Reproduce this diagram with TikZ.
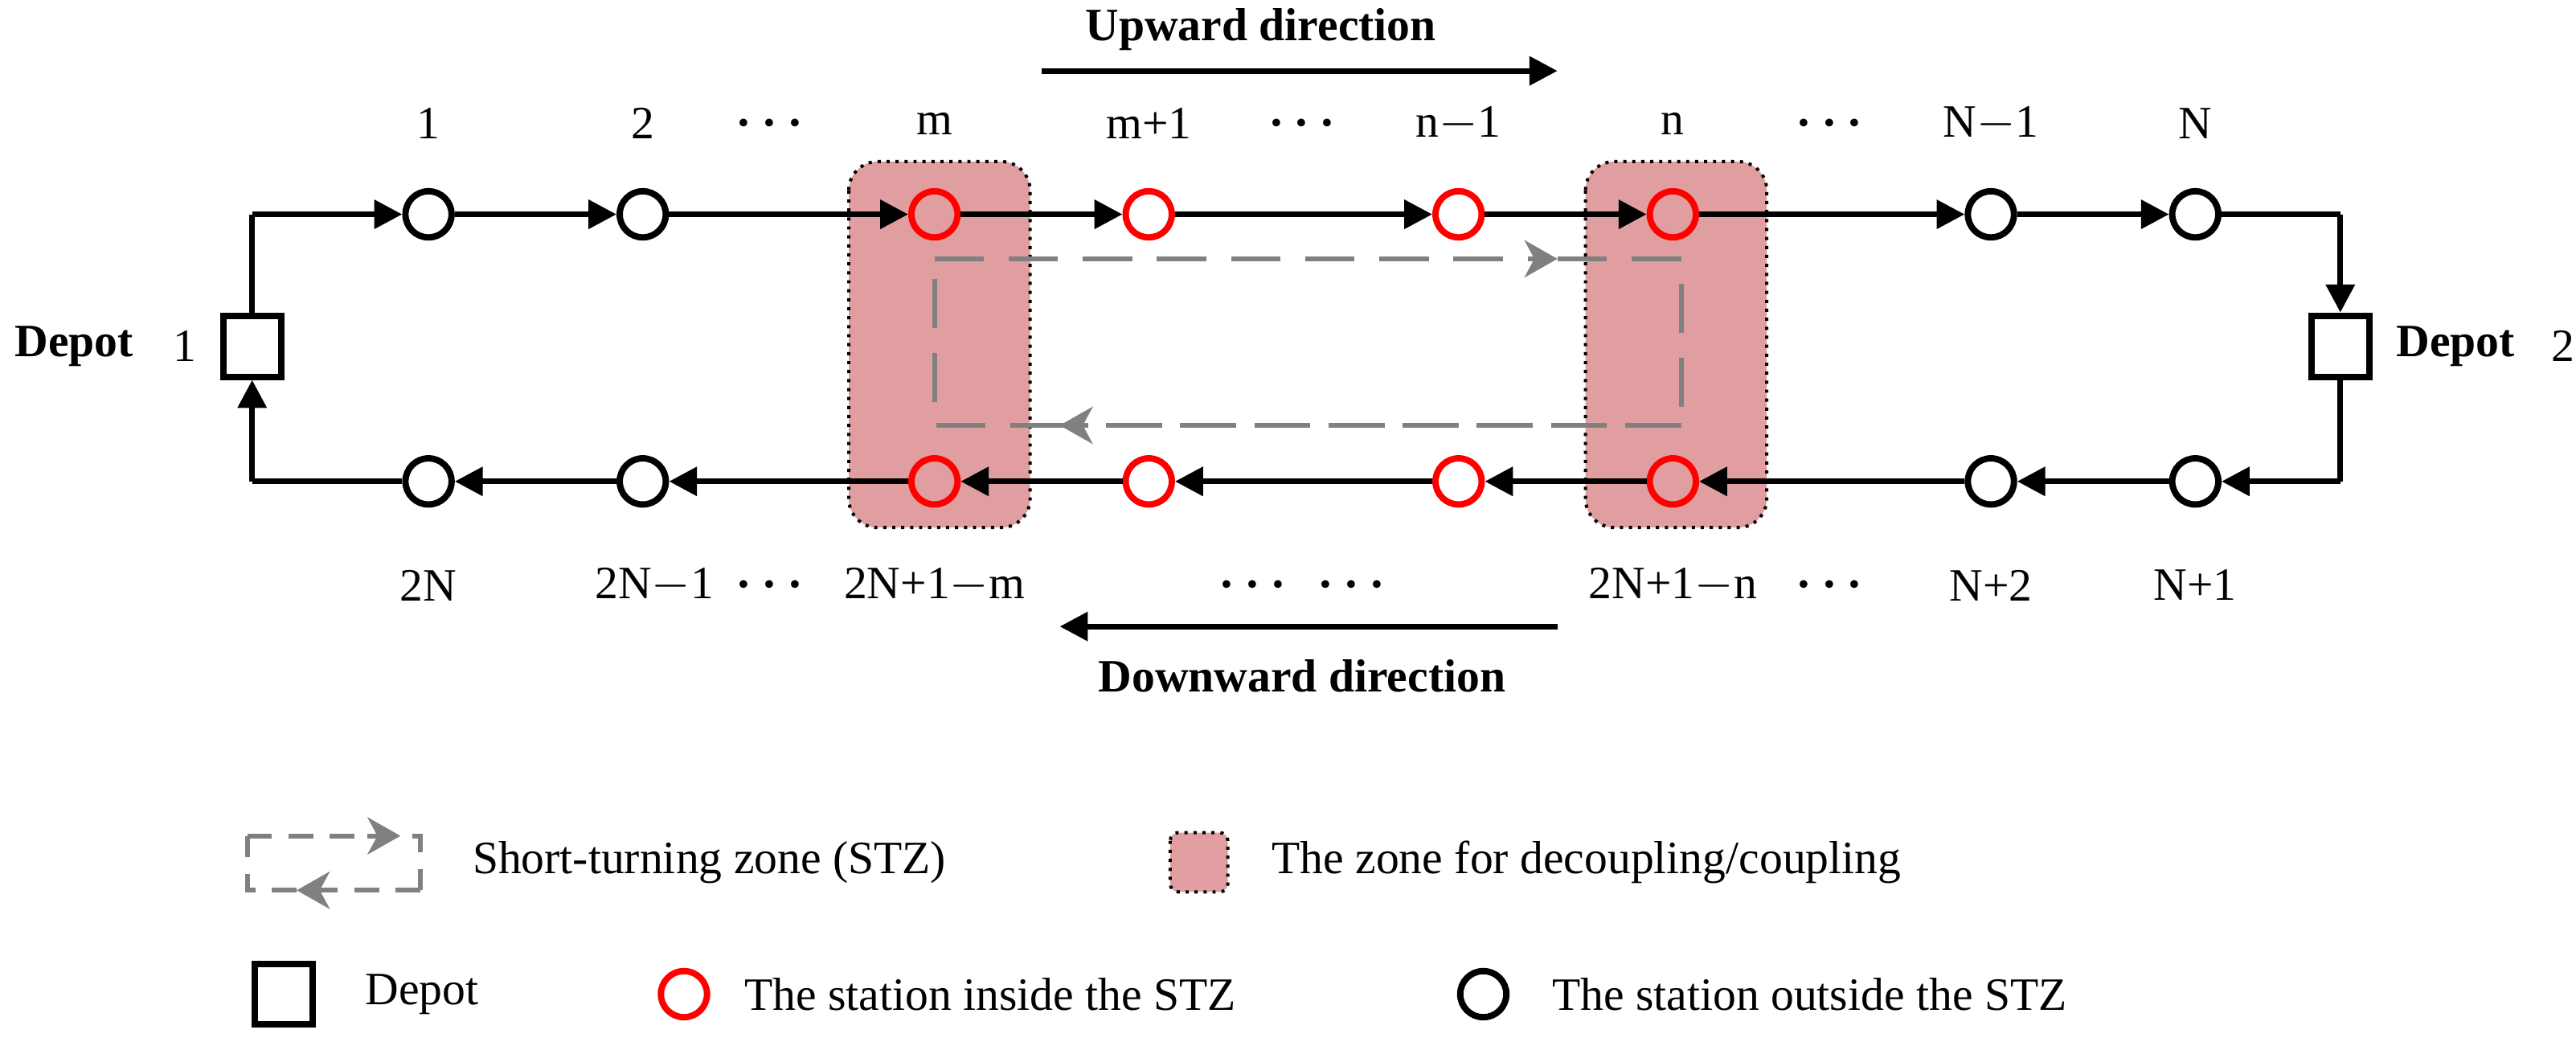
\documentclass[tikz,border=0pt]{standalone}
\usepackage{fontspec}
\setmainfont{Liberation Serif}
\usetikzlibrary{arrows.meta,calc}
\definecolor{zonepink}{RGB}{224,158,160}
\begin{document}
\begin{tikzpicture}[x=0.02cm,y=-0.02cm,
  font=\fontsize{16}{18}\selectfont,
  line width=2pt,
  arr/.style={-{Triangle[length=3.4mm,width=3.4mm]}},
  inout/.style={circle,draw=black,line width=2.2pt,minimum size=0.56cm,inner sep=0pt},
  inside/.style={inout,draw=red},
  depot/.style={rectangle,draw=black,line width=2.2pt,minimum width=0.7cm,minimum height=0.74cm,inner sep=0pt},
  zone/.style={fill=zonepink,draw=black,dotted,line width=1.1pt,rounded corners=0.35cm},
  stz/.style={draw=gray,dashed,dash pattern=on 6mm off 3mm,line width=1.7pt},
  stzarr/.style={stz,-{Stealth[length=4mm,width=4.5mm,inset=1.2mm]}},
  lab/.style={inner sep=0pt},
  dots/.style={lab,font=\fontsize{16}{18}\selectfont\boldmath}]
\useasboundingbox (0,0) rectangle (1563,632);
% zones for decoupling/coupling
\draw[zone] (515,98) rectangle (625,320);
\draw[zone] (962,98) rectangle (1072,320);
% short-turning zone
\coordinate (s1) at (567,157);
\coordinate (s2) at (945,157);
\coordinate (s3) at (1020,157);
\coordinate (s4) at (1020,258);
\coordinate (s5) at (643,258);
\coordinate (s6) at (567,258);
\draw[stzarr] (s1) -- (s2);
\draw[stz] (s2) -- (s3) -- (s4) -- (s5);
\draw[stzarr] (s4) -- (s5);
\draw[stz] (s5) -- (s6) -- (s1);
% depots
\node[depot] (d1) at (153,210) {};
\node[depot] (d2) at (1420,210) {};
\node[lab,font=\fontsize{16}{18}\selectfont\bfseries] at (45,210) {Depot};
\node[lab] at (112,210) {1};
\node[lab,font=\fontsize{16}{18}\selectfont\bfseries] at (1490,210) {Depot};
\node[lab] at (1555,210) {2};
% stations
\foreach \name/\x/\st in {u1/260/inout,u2/390/inout,um/567/inside,ua/697/inside,
  ub/885/inside,un/1015/inside,uc/1208/inout,uN/1332/inout}
  \node[\st] (\name) at (\x,130) {};
\foreach \name/\x/\st in {l1/260/inout,l2/390/inout,lm/567/inside,la/697/inside,
  lb/885/inside,ln/1015/inside,lc/1208/inout,lN/1332/inout}
  \node[\st] (\name) at (\x,292) {};
% upward line
\coordinate (c1) at (153,130);
\coordinate (c2) at (1420,130);
\coordinate (c3) at (1420,292);
\coordinate (c4) at (153,292);
\draw (d1.north) -- (c1);
\draw[arr] (c1) -- (u1);
\draw[arr] (u1) -- (u2);
\draw[arr] (u2) -- (um);
\draw[arr] (um) -- (ua);
\draw[arr] (ua) -- (ub);
\draw[arr] (ub) -- (un);
\draw[arr] (un) -- (uc);
\draw[arr] (uc) -- (uN);
\draw (uN) -- (c2);
\draw[arr] (c2) -- (d2.north);
% downward line
\draw (d2.south) -- (c3);
\draw[arr] (c3) -- (lN);
\draw[arr] (lN) -- (lc);
\draw[arr] (lc) -- (ln);
\draw[arr] (ln) -- (lb);
\draw[arr] (lb) -- (la);
\draw[arr] (la) -- (lm);
\draw[arr] (lm) -- (l2);
\draw[arr] (l2) -- (l1);
\draw (l1) -- (c4);
\draw[arr] (c4) -- (d1.south);
% labels
\foreach \x/\t in {260/1,390/2,567/m,697/m+1,885/n$-$1,1015/n,1208/N$-$1,1332/N}
  \node[lab] at (\x,75) {\t};
\foreach \x in {467,790,1110}
  \node[dots] at (\x,75) {$\cdots$};
\foreach \x/\t in {260/2N,397/2N$-$1,567/2N+1$-$m,1015/2N+1$-$n,1208/N+2,1332/N+1}
  \node[lab] at (\x,355) {\t};
\foreach \x in {467,760,820,1110}
  \node[dots] at (\x,355) {$\cdots$};
% directions
\coordinate (up1) at (632,43);
\coordinate (up2) at (945,43);
\coordinate (dn1) at (945,380);
\coordinate (dn2) at (643,380);
\draw[arr] (up1) -- (up2);
\draw[arr] (dn1) -- (dn2);
\node[lab,font=\fontsize{16}{18}\selectfont\bfseries] at (765,18) {Upward direction};
\node[lab,font=\fontsize{16}{18}\selectfont\bfseries] at (790,410) {Downward direction};
% legend
\coordinate (g1) at (150,507);
\coordinate (g2) at (243,507);
\coordinate (g3) at (255,507);
\coordinate (g4) at (255,540);
\coordinate (g5) at (180,540);
\coordinate (g6) at (150,540);
\draw[stz,dash pattern=on 3mm off 2mm] (g1) -- (g3) -- (g4);
\draw[stz,dash pattern=on 3mm off 2mm] (g4) -- (g6) -- (g1);
\draw[stzarr,dash pattern=on 3mm off 2mm] ($(g2)+(-20,0)$) -- (g2);
\draw[stzarr,dash pattern=on 3mm off 2mm] ($(g5)+(20,0)$) -- (g5);
\node[lab,anchor=west] at (285,523) {Short-turning zone (STZ)};
\draw[zone,rounded corners=0.1cm] (710,505) rectangle (745,541);
\node[lab,anchor=west] at (770,523) {The zone for decoupling/coupling};
\node[depot] (ld) at (172,603) {};
\node[lab,anchor=west] at (220,603) {Depot};
\node[inside] (li) at (415,603) {};
\node[lab,anchor=west] at (450,603) {The station inside the STZ};
\node[inout] (lo) at (900,603) {};
\node[lab,anchor=west] at (940,603) {The station outside the STZ};
\end{tikzpicture}
\end{document}
